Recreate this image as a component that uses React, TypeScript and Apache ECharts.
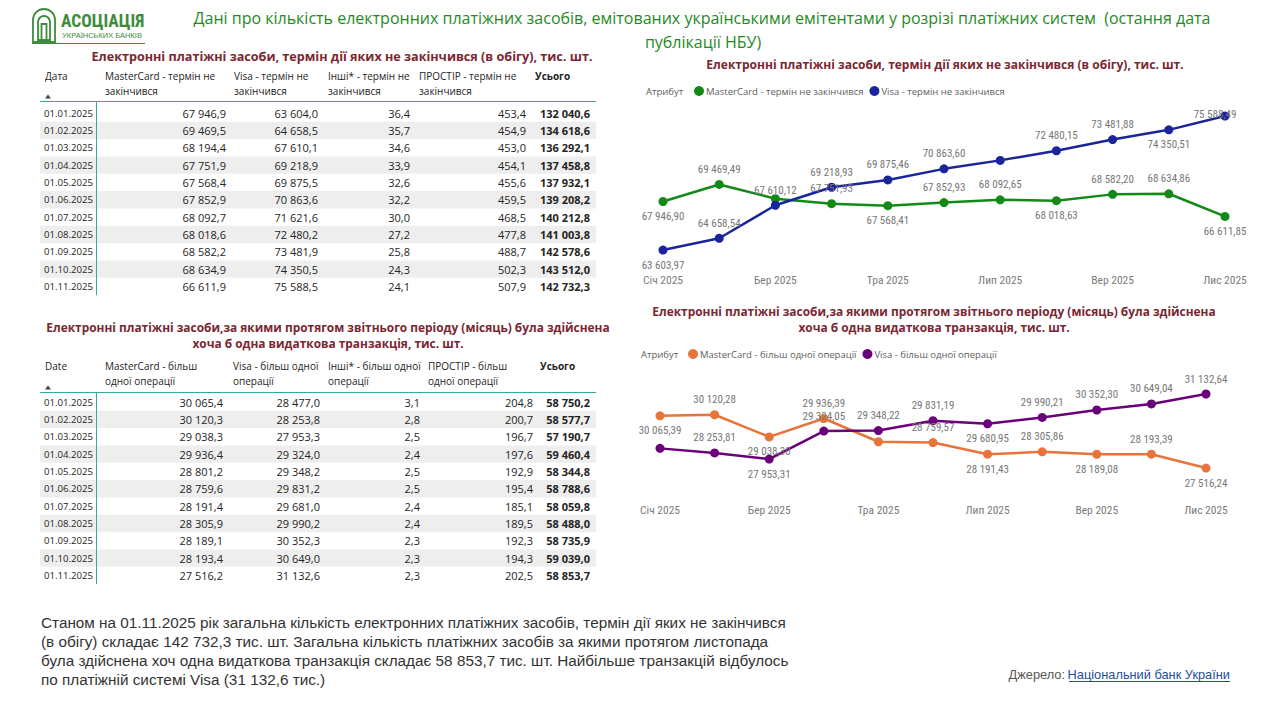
import React, { useEffect, useRef } from "react";
import * as echarts from "echarts";

// ---------- DATA ----------
const months = ["Січ 2025", "Лют 2025", "Бер 2025", "Кві 2025", "Тра 2025", "Чер 2025", "Лип 2025", "Сер 2025", "Вер 2025", "Жов 2025", "Лис 2025"];
const dates = ["01.01.2025", "01.02.2025", "01.03.2025", "01.04.2025", "01.05.2025", "01.06.2025", "01.07.2025", "01.08.2025", "01.09.2025", "01.10.2025", "01.11.2025"];

// Table 1: in circulation (thousand units)
const t1MasterCard = [67946.9, 69469.5, 68194.4, 67751.9, 67568.4, 67852.9, 68092.7, 68018.6, 68582.2, 68634.9, 66611.9];
const t1Visa = [63604.0, 64658.5, 67610.1, 69218.9, 69875.5, 70863.6, 71621.6, 72480.2, 73481.9, 74350.5, 75588.5];
const t1Other = [36.4, 35.7, 34.6, 33.9, 32.6, 32.2, 30.0, 27.2, 25.8, 24.3, 24.1];
const t1Prostir = [453.4, 454.9, 453.0, 454.1, 455.6, 459.5, 468.5, 477.8, 488.7, 502.3, 507.9];
const t1Total = [132040.6, 134618.6, 136292.1, 137458.8, 137932.1, 139208.2, 140212.8, 141003.8, 142578.6, 143512.0, 142732.3];

// Table 2: at least one debit transaction (thousand units)
const t2MasterCard = [30065.4, 30120.3, 29038.3, 29936.4, 28801.2, 28759.6, 28191.4, 28305.9, 28189.1, 28193.4, 27516.2];
const t2Visa = [28477.0, 28253.8, 27953.3, 29324.0, 29348.2, 29831.2, 29681.0, 29990.2, 30352.3, 30649.0, 31132.6];
const t2Other = [3.1, 2.8, 2.5, 2.4, 2.5, 2.5, 2.4, 2.4, 2.3, 2.3, 2.3];
const t2Prostir = [204.8, 200.7, 196.7, 197.6, 192.9, 195.4, 185.1, 189.5, 192.3, 194.3, 202.5];
const t2Total = [58750.2, 58577.7, 57190.7, 59460.4, 58344.8, 58788.6, 58059.8, 58488.0, 58735.9, 59039.0, 58853.7];

// Chart series
const c1MasterCard = [67946.90, 69469.49, 68194.40, 67751.93, 67568.41, 67852.93, 68092.65, 68018.63, 68582.20, 68634.86, 66611.85];
const c1Visa = [63603.97, 64658.54, 67610.12, 69218.93, 69875.46, 70863.60, 71621.60, 72480.15, 73481.88, 74350.51, 75588.49];
const c2MasterCard = [30065.39, 30120.28, 29038.30, 29936.39, 28801.20, 28759.57, 28191.43, 28305.86, 28189.08, 28193.39, 27516.24];
const c2Visa = [28477.00, 28253.81, 27953.31, 29324.05, 29348.22, 29831.19, 29680.95, 29990.21, 30352.30, 30649.04, 31132.64];

const t1Headers = [["Дата"], ["MasterCard - термін не", "закінчився"], ["Visa - термін не", "закінчився"], ["Інші* - термін не", "закінчився"], ["ПРОСТІР - термін не", "закінчився"], ["Усього"]];
const t2Headers = [["Date"], ["MasterCard - більш", "одної операції"], ["Visa - більш одної", "операції"], ["Інші* - більш одної", "операції"], ["ПРОСТІР - більш", "одної операції"], ["Усього"]];

// ---------- STYLE (label placement per point) ----------
const c1MCLabel = ["bottom", "top", "", "top", "bottom", "top", "top", "bottom", "top", "top", "bottom"];
const c1VisaLabel = ["bottom", "top", "top", "top", "top", "top", "", "top", "top", "bottom", "edge"];
const c2MCLabel = ["bottom", "top", "bottom", "top", "", "top", "bottom", "top", "bottom", "top", "bottom"];
const c2VisaLabel = ["", "top", "bottom", "top", "top", "top", "bottom", "top", "top", "top", "top"];

const UI = "'Segoe UI', 'Open Sans', 'Noto Sans', sans-serif";
const NARROW = "'DIN', 'Liberation Sans Narrow', 'Roboto Condensed', Roboto, sans-serif";
const ARIAL = "'Liberation Sans', Arial, sans-serif";
const TEXT = "#252423";
const TITLE_RED = "#7B2631";
const TEAL = "#35A9A0";
const GREEN = "#3C8C3C";

const fmt = (v: number, d: number) => {
  const s = v.toFixed(d);
  const [i, f] = s.split(".");
  const ii = i.replace(/\B(?=(\d{3})+(?!\d))/g, " ");
  return f !== undefined ? ii + "," + f : ii;
};

const LOGO_D = "M0 33 V11 A11 11 0 0 1 22 11 V33 Z M5 31 V13 A6 6 0 0 1 17 13 V31 Z M8.5 31 V15 H13.5 V31";

export default function App() {
  const ref = useRef<HTMLDivElement>(null);

  useEffect(() => {
    document.body.style.margin = "0";
    if (!ref.current) return;
    try {
      echarts.graphic.registerShape("logo", echarts.graphic.extendPath(LOGO_D, {}));
    } catch (e) {}
    const chart = echarts.init(ref.current, undefined, { renderer: "svg" });

    const g: any[] = [];
    const text = (x: number, y: number, t: string, o: any = {}) => {
      const align = o.align || "left";
      g.push({
        type: "text",
        x,
        y,
        silent: true,
        style: {
          text: t,
          fill: o.fill || TEXT,
          fontSize: o.size || 11,
          fontFamily: o.family || UI,
          fontWeight: o.weight || "normal",
          align,
          textAlign: align,
          verticalAlign: "middle",
          textVerticalAlign: "middle",
        },
      });
    };
    const line = (x1: number, y1: number, x2: number, y2: number, color: string, w = 1) =>
      g.push({ type: "line", silent: true, shape: { x1, y1, x2, y2 }, style: { stroke: color, lineWidth: w } });

    // Logo
    g.push({ type: "logo", x: 33, y: 9, scaleX: 1, scaleY: 1, style: { fill: "none", stroke: GREEN, lineWidth: 1.8 } });
    text(61, 21, "АСОЦІАЦІЯ", { size: 17.5, fill: GREEN, weight: "bold", family: NARROW });
    text(62, 35, "УКРАЇНСЬКИХ БАНКІВ", { size: 7.5, fill: GREEN, family: ARIAL });
    line(32, 43.5, 145, 43.5, GREEN, 1.2);

    // Main title
    text(702, 18, "Дані про кількість електронних платіжних засобів, емітованих українськими емітентами у розрізі платіжних систем  (остання дата", { size: 16, fill: "#1F8A1F", align: "center" });
    text(703, 42, "публікації НБУ)", { size: 16, fill: "#1F8A1F", align: "center" });

    // Tables
    const drawTable = (cfg: any) => {
      const { top, headers, headerX, rightX, cols, totals, hdrLine, rowY0, step } = cfg;
      headers.forEach((h: string[], ci: number) => {
        h.forEach((ln, li) => {
          text(headerX[ci], top + li * 15, ln, { size: 10, weight: ci === 5 ? "bold" : "normal" });
        });
      });
      g.push({ type: "polygon", silent: true, shape: { points: [[45, hdrLine - 3], [51, hdrLine - 3], [48, hdrLine - 7]] }, style: { fill: "#444" } });
      dates.forEach((d, i) => {
        const y = rowY0 + i * step;
        if (i % 2 === 1) {
          g.push({ type: "rect", silent: true, shape: { x: 40, y: y - step / 2, width: 556, height: step }, style: { fill: "#EEEEEE" } });
        }
      });
      line(40, hdrLine, 596, hdrLine, TEAL, 1);
      line(96.5, hdrLine, 96.5, rowY0 + 10 * step + step / 2, TEAL, 1);
      dates.forEach((d, i) => {
        const y = rowY0 + i * step;
        text(44, y, d, { size: 9.6 });
        cols.forEach((arr: number[], ci: number) => {
          text(rightX[ci], y, fmt(arr[i], 1), { size: 11, align: "right" });
        });
        text(rightX[4], y, fmt(totals[i], 1), { size: 11, align: "right", weight: "bold" });
      });
    };

    text(342, 56, "Електронні платіжні засоби, термін дії яких не закінчився (в обігу), тис. шт.", { size: 12.6, weight: "bold", fill: TITLE_RED, align: "center" });
    drawTable({
      top: 76,
      headers: t1Headers,
      headerX: [45, 105, 234, 328, 419, 535],
      rightX: [226, 318, 410, 526, 590],
      cols: [t1MasterCard, t1Visa, t1Other, t1Prostir],
      totals: t1Total,
      hdrLine: 101.5,
      rowY0: 113,
      step: 17.35,
    });
    text(328, 327, "Електронні платіжні засоби,за якими протягом звітнього періоду (місяць) була здійснена", { size: 11.9, weight: "bold", fill: TITLE_RED, align: "center" });
    text(328, 343, "хоча б одна видаткова транзакція, тис. шт.", { size: 11.9, weight: "bold", fill: TITLE_RED, align: "center" });
    drawTable({
      top: 366,
      headers: t2Headers,
      headerX: [45, 105, 233, 328, 428, 540],
      rightX: [223, 320, 420, 533, 590],
      cols: [t2MasterCard, t2Visa, t2Other, t2Prostir],
      totals: t2Total,
      hdrLine: 392.5,
      rowY0: 402,
      step: 17.35,
    });

    // Chart titles & legend captions
    text(945, 64, "Електронні платіжні засоби, термін дії яких не закінчився (в обігу), тис. шт.", { size: 12, weight: "bold", fill: TITLE_RED, align: "center" });
    text(646, 91, "Атрибут", { size: 9.5, fill: "#605E5C" });
    text(934, 311, "Електронні платіжні засоби,за якими протягом звітнього періоду (місяць) була здійснена", { size: 11.9, weight: "bold", fill: TITLE_RED, align: "center" });
    text(934, 327, "хоча б одна видаткова транзакція, тис. шт.", { size: 11.9, weight: "bold", fill: TITLE_RED, align: "center" });
    text(641, 354, "Атрибут", { size: 9.5, fill: "#605E5C" });

    // Footer
    const footer = [
      "Станом на 01.11.2025 рік загальна кількість електронних платіжних засобів, термін дії яких не закінчився",
      "(в обігу) складає 142 732,3 тис. шт. Загальна кількість платіжних засобів за якими протягом листопада",
      "була здійснена хоч одна видаткова транзакція складає 58 853,7 тис. шт. Найбільше транзакцій відбулось",
      "по платіжній системі Visa (31 132,6 тис.)",
    ];
    footer.forEach((l, i) => text(41, 622 + i * 19, l, { size: 15.3, fill: "#333333", family: ARIAL }));
    text(1065, 674, "Джерело:", { size: 12.8, fill: "#555555", align: "right", family: ARIAL });
    text(1230, 674, "Національний банк України", { size: 12.8, fill: "#1F4E9C", align: "right", family: ARIAL });
    line(1069, 681.5, 1230, 681.5, "#1F4E9C", 1);

    const labelStyle = { color: "#777777", fontSize: 11, fontFamily: NARROW };
    const mk = (vals: number[], pos: string[]) =>
      vals.map((v, i) => {
        const p = pos[i];
        if (!p) return { value: v, label: { show: false } };
        if (p === "edge") return { value: v, label: { show: true, position: "top", offset: [-10, 13] } };
        return { value: v, label: { show: true, position: p } };
      });
    const lineSeries = (name: string, color: string, idx: number, vals: number[], pos: string[]) => ({
      name,
      type: "line",
      xAxisIndex: idx,
      yAxisIndex: idx,
      data: mk(vals, pos),
      symbol: "circle",
      symbolSize: 9,
      showSymbol: true,
      itemStyle: { color },
      lineStyle: { color, width: 2.5 },
      label: { ...labelStyle, distance: 5, formatter: (p: any) => fmt(p.value, 2) },
      emphasis: { disabled: true },
    });

    const axisLabel = { interval: 1, color: "#7A7A7A", fontSize: 11.5, fontWeight: "normal", fontFamily: NARROW };
    const legendText = { fontSize: 9.5, color: "#605E5C", fontFamily: UI, padding: [0, 0, 0, -3] };

    chart.setOption({
      animation: false,
      textStyle: { fontFamily: UI },
      legend: [
        {
          left: 694,
          top: 86,
          orient: "horizontal",
          icon: "circle",
          itemWidth: 10,
          itemHeight: 10,
          itemGap: 6,
          padding: 0,
          selectedMode: false,
          data: ["MasterCard - термін не закінчився", "Visa - термін не закінчився"],
          textStyle: legendText,
        },
        {
          left: 688,
          top: 349,
          orient: "horizontal",
          icon: "circle",
          itemWidth: 10,
          itemHeight: 10,
          itemGap: 6,
          padding: 0,
          selectedMode: false,
          data: ["MasterCard - більш одної операції", "Visa - більш одної операції"],
          textStyle: legendText,
        },
      ],
      grid: [
        { left: 663, top: 111.4, width: 562, height: 156.6 },
        { left: 660, top: 386.5, width: 546, height: 92.1 },
      ],
      xAxis: [
        { gridIndex: 0, type: "category", data: months, boundaryGap: false, axisLine: { show: false }, axisTick: { show: false }, splitLine: { show: false }, axisLabel: { ...axisLabel, margin: 6 } },
        { gridIndex: 1, type: "category", data: months, boundaryGap: false, axisLine: { show: false }, axisTick: { show: false }, splitLine: { show: false }, axisLabel: { ...axisLabel, margin: 25 } },
      ],
      yAxis: [
        { gridIndex: 0, type: "value", min: 62000, max: 76000, show: false },
        { gridIndex: 1, type: "value", min: 27000, max: 31500, show: false },
      ],
      series: [
        lineSeries("MasterCard - термін не закінчився", "#138A17", 0, c1MasterCard, c1MCLabel),
        lineSeries("Visa - термін не закінчився", "#1A259B", 0, c1Visa, c1VisaLabel),
        lineSeries("MasterCard - більш одної операції", "#E8743B", 1, c2MasterCard, c2MCLabel),
        lineSeries("Visa - більш одної операції", "#6B007B", 1, c2Visa, c2VisaLabel),
      ],
      graphic: { elements: g },
    });

    return () => chart.dispose();
  }, []);

  return <div ref={ref} style={{ width: 1266, height: 712 }} />;
}
